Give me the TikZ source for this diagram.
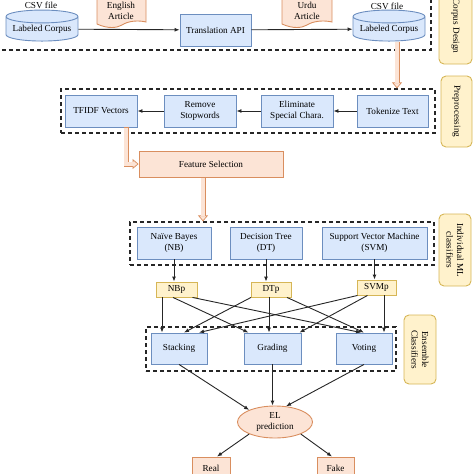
\documentclass[tikz,border=0pt]{standalone}
\usepackage{fontspec}
\setmainfont{Liberation Serif}
\usetikzlibrary{calc,arrows.meta,shapes.geometric}
\definecolor{bfill}{HTML}{DAE8FC}
\definecolor{bdraw}{HTML}{6C8EBF}
\definecolor{ofill}{HTML}{FCE4D6}
\definecolor{odraw}{HTML}{D98E5F}
\definecolor{yfill}{HTML}{FFF2CC}
\definecolor{ydraw}{HTML}{D6B656}
\definecolor{arrc}{HTML}{262626}
\tikzset{
	txt/.style={font=\fontsize{9.2}{10.5}\selectfont, align=center},
	bbox/.style={txt, draw=bdraw, fill=bfill, line width=0.9pt, inner sep=0pt},
	obox/.style={txt, draw=odraw, fill=ofill, line width=0.9pt, inner sep=0pt},
	ybox/.style={txt, draw=ydraw, fill=yfill, line width=0.9pt, inner sep=0pt},
	side/.style={ybox, rounded corners=5pt, rotate=-90},
	frame/.style={draw=arrc, line width=1.2pt, dash pattern=on 4pt off 3pt, inner sep=0pt},
	dbase/.style={bbox, shape=cylinder, shape border rotate=90, aspect=0.22},
	doc/.style={draw=odraw, fill=ofill, line width=0.9pt},
	arr/.style={draw=arrc, line width=0.9pt, -{Latex[length=5pt,width=4pt]}},
	flex/.style={draw=odraw, line width=5pt, -{Triangle[width=10pt,length=6pt,line width=0.7pt,fill=ofill]},
		postaction={draw=ofill, line width=3.6pt, -, shorten >=5pt, shorten <=0.7pt}}
}

\begin{document}
\begin{tikzpicture}[x=1pt, y=-1pt]
		%%%%% START %%%%%
		\useasboundingbox (0,0) rectangle (474,474);
		
		% corpus design
		\node[frame, minimum width=436, minimum height=60] (corpbox) at (213,20) {};
		\node[txt] (csvA) at (41,5) {CSV file};
		\node[dbase, minimum width=72, minimum height=31] (corpA) at (42,29) {Labeled Corpus};
		\draw[doc] (97,-5) -- (97,24) .. controls (108,29) and (117,28) .. (122,25) .. controls (128,21) and (138,20) .. (146,22) -- (146,-5) -- cycle;
		\node[txt] (eng) at (121,11) {English\\Article};
		\node[bbox, minimum width=71, minimum height=32] (api) at (215.5,30) {Translation API};
		\draw[doc] (282,-5) -- (282,24) .. controls (293,29) and (302,28) .. (307,25) .. controls (313,21) and (324,20) .. (332,22) -- (332,-5) -- cycle;
		\node[txt] (urdu) at (307,11) {Urdu\\Article};
		\node[txt] (csvB) at (387,6) {CSV file};
		\node[dbase, minimum width=72, minimum height=31] (corpB) at (389,29) {Labeled Corpus};
		\draw[arr] (corpA) -- (api);
		\draw[arr] (api) -- (corpB);
		
		% preprocessing
		\node[frame, minimum width=374, minimum height=44] (prepbox) at (248,111) {};
		\node[bbox, minimum width=72, minimum height=32] (tfidf) at (101,111) {TFIDF Vectors};
		\node[bbox, minimum width=72, minimum height=32] (stop) at (200,111) {Remove\\Stopwords};
		\node[bbox, minimum width=72, minimum height=32] (elim) at (297,111) {Eliminate\\Special Chara.};
		\node[bbox, minimum width=71, minimum height=32] (token) at (392.5,111) {Tokenize Text};
		\draw[arr] (token) -- (elim);
		\draw[arr] (elim) -- (stop);
		\draw[arr] (stop) -- (tfidf);
		
		\coordinate (fa) at ($(corpB.south)+(8,0)$);
		\draw[flex] (fa) -- (fa |- prepbox.north);
		
		\node[obox, minimum width=144, minimum height=26] (feat) at (211,164) {Feature Selection};
		\coordinate (fb) at ($(tfidf.south)+(25,0)$);
		\draw[flex] (fb) |- (feat.west);
		
		% individual classifiers
		\node[frame, minimum width=304, minimum height=43] (clfbox) at (282,243.5) {};
		\node[bbox, minimum width=74, minimum height=32] (nb) at (174,243) {Naïve Bayes\\(NB)};
		\node[bbox, minimum width=72, minimum height=32] (dt) at (266,243) {Decision Tree\\(DT)};
		\node[bbox, minimum width=105, minimum height=32] (svm) at (374.5,243) {Support Vector Machine\\(SVM)};
		\coordinate (fc) at ($(feat.south)+(-8,0)$);
		\draw[flex] (fc) -- (fc |- clfbox.north);
		
		\node[ybox, minimum width=41, minimum height=15] (nbp) at (176.5,289.5) {NBp};
		\node[ybox, minimum width=40, minimum height=15] (dtp) at (271,289.5) {DTp};
		\node[ybox, minimum width=39, minimum height=15] (svmp) at (376.5,287.5) {SVMp};
		\draw[arr] (nb.south) -- (nb.south |- nbp.north);
		\draw[arr] (dt.south) -- (dt.south |- dtp.north);
		\draw[arr] (svm.south) -- (svm.south |- svmp.north);
		
		% ensemble
		\node[frame, minimum width=250, minimum height=44] (ensbox) at (271,349) {};
		\node[bbox, minimum width=56, minimum height=31] (stack) at (179,348.5) {Stacking};
		\node[bbox, minimum width=57, minimum height=31] (grad) at (272.5,348.5) {Grading};
		\node[bbox, minimum width=56, minimum height=31] (vote) at (364,348.5) {Voting};
		
		\draw[arr] ([xshift=-14.5]nbp.south) -- ([xshift=-17]stack.north);
		\draw[arr] ([xshift=-3.5]nbp.south) -- ([xshift=-24]grad.north);
		\draw[arr] ([xshift=16]nbp.south) -- ([xshift=-3]vote.north);
		\draw[arr] ([xshift=-20]dtp.south) -- ([xshift=5]stack.north);
		\draw[arr] ([xshift=-2]dtp.south) -- ([xshift=-3.5]grad.north);
		\draw[arr] ([xshift=16]dtp.south) -- ([xshift=0]vote.north);
		\draw[arr] ([xshift=-19]svmp.south) -- ([xshift=20]stack.north);
		\draw[arr] ([xshift=-9]svmp.south) -- ([xshift=27]grad.north);
		\draw[arr] ([xshift=7.5]svmp.south) -- ([xshift=20]vote.north);
		
		% prediction
		\node[obox, shape=ellipse, minimum width=75, minimum height=32] (el) at (275,422) {EL\\prediction};
		\draw[arr] (stack.south) -- (el.155);
		\draw[arr] (grad.south) -- (grad.south |- el.north);
		\draw[arr] (vote.south) -- (el.55);
		\node[obox, minimum width=38, minimum height=22] (real) at (211,468) {Real};
		\node[obox, minimum width=37, minimum height=22] (fake) at (335.5,468) {Fake};
		\draw[arr] (el.205) -- ([xshift=6]real.north);
		\draw[arr] (el.335) -- ([xshift=-3.5]fake.north);
		
		% side labels
		\node[side, minimum width=76, minimum height=33] (sideA) at (455.5,26) {Corpus Design};
		\node[side, minimum width=71, minimum height=31] (sideB) at (456.5,111.5) {Preprocessing};
		\node[side, minimum width=72, minimum height=32] (sideC) at (455,250) {Individual ML\\classifiers};
		\node[side, minimum width=69, minimum height=32] (sideD) at (420,349.5) {Ensemble\\Classifiers};
		%%%%% END %%%%%
	\end{tikzpicture}
\end{document}
